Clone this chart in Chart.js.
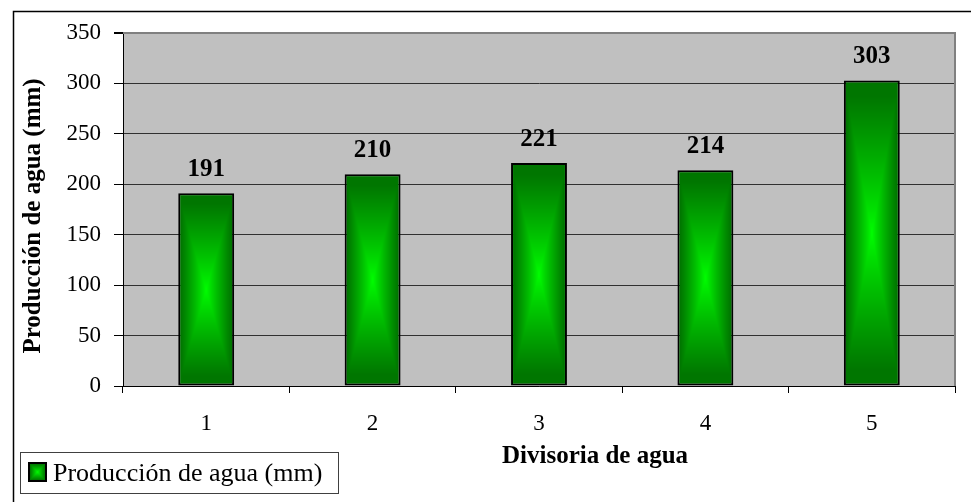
<!DOCTYPE html>
<html>
<head>
<meta charset="utf-8">
<script src="https://cdn.jsdelivr.net/npm/chart.js@4/dist/chart.umd.min.js"></script>
<style>
  html, body { margin: 0; padding: 0; background: #ffffff; }
  #wrap { width: 971px; height: 502px; }
</style>
</head>
<body>
<div id="wrap"><canvas id="chart" width="971" height="502"></canvas></div>
<script>
// Water yield per watershed divide
const categories = ['1', '2', '3', '4', '5'];
const produccion = [191, 210, 221, 214, 303];
const yTickValues = [0, 50, 100, 150, 200, 250, 300, 350];
const seriesLabel = 'Producción de agua (mm)';
const xTitle = 'Divisoria de agua';
const yTitle = 'Producción de agua (mm)';

const SERIF = "'Liberation Serif', 'Times New Roman', serif";
const BAR_FRACTION = 0.336;

// Rectangular "from centre" gradient: bright green in the middle, dark green at the edges
function makeCenterPattern(ctx, left, top, w, h) {
  const W = Math.max(1, Math.round(w)), H = Math.max(1, Math.round(h));
  const off = document.createElement('canvas');
  off.width = W; off.height = H;
  const o = off.getContext('2d');
  const img = o.createImageData(W, H);
  const hw = W / 2, hh = H / 2;
  const c0 = [0, 255, 0], c1 = [0, 118, 0];
  for (let j = 0; j < H; j++) {
    for (let i = 0; i < W; i++) {
      const dx = Math.abs(i + 0.5 - hw) / hw;
      const dy = Math.abs(j + 0.5 - hh) / hh;
      let t = Math.min(1, Math.max(dx, dy) * 1.12);
      t = Math.pow(t, 0.85);
      const k = (j * W + i) * 4;
      img.data[k] = c0[0] + (c1[0] - c0[0]) * t;
      img.data[k + 1] = c0[1] + (c1[1] - c0[1]) * t;
      img.data[k + 2] = c0[2] + (c1[2] - c0[2]) * t;
      img.data[k + 3] = 255;
    }
  }
  o.putImageData(img, 0, 0);
  const p = ctx.createPattern(off, 'no-repeat');
  p.setTransform(new DOMMatrix([1, 0, 0, 1, left, top]));
  return p;
}

function barFill(context) {
  const chart = context.chart;
  const xs = chart.scales.x, ys = chart.scales.y;
  if (!chart.chartArea || !xs || !ys || context.dataIndex === undefined) return '#00a000';
  const i = context.dataIndex;
  const v = context.raw;
  const cx = xs.getPixelForValue(i);
  const w = (xs.width / categories.length) * BAR_FRACTION;
  const top = ys.getPixelForValue(v);
  const base = ys.getPixelForValue(0);
  return makeCenterPattern(chart.ctx, cx - w / 2, top, w, base - top);
}

// Grey plot area plus outer frame
const frame = {
  id: 'frame',
  beforeDraw(chart) {
    const { ctx, chartArea: a } = chart;
    ctx.save();
    ctx.fillStyle = '#c0c0c0';
    ctx.fillRect(a.left, a.top, a.right - a.left, a.bottom - a.top);
    ctx.strokeStyle = '#000';
    ctx.lineWidth = 1.5;
    ctx.strokeRect(13.5, 11.5, 1200, 1200);
    ctx.restore();
  },
  afterDatasetsDraw(chart) {
    const { ctx, chartArea: a } = chart;
    ctx.save();
    ctx.strokeStyle = '#808080';
    ctx.lineWidth = 2;
    ctx.beginPath();
    ctx.moveTo(a.left, a.top);
    ctx.lineTo(a.right, a.top);
    ctx.lineTo(a.right, a.bottom);
    ctx.stroke();
    ctx.restore();
  }
};

// Bold value labels above each bar
const valueLabels = {
  id: 'valueLabels',
  afterDatasetsDraw(chart) {
    const { ctx } = chart;
    const meta = chart.getDatasetMeta(0);
    const data = chart.data.datasets[0].data;
    ctx.save();
    ctx.font = 'bold 25px ' + SERIF;
    ctx.fillStyle = '#000';
    ctx.textAlign = 'center';
    ctx.textBaseline = 'alphabetic';
    meta.data.forEach((bar, i) => {
      ctx.fillText(String(data[i]), bar.x, bar.y - 17);
    });
    ctx.restore();
  }
};

// Axis titles
const axisTitles = {
  id: 'axisTitles',
  afterDraw(chart) {
    const { ctx } = chart;
    ctx.save();
    ctx.fillStyle = '#000';
    ctx.font = 'bold 25px ' + SERIF;
    ctx.textBaseline = 'alphabetic';
    ctx.textAlign = 'left';
    ctx.fillText(xTitle, 502, 463);
    ctx.translate(40, 216);
    ctx.rotate(-Math.PI / 2);
    ctx.textAlign = 'center';
    ctx.fillText(yTitle, 0, 0);
    ctx.restore();
  }
};

// Boxed legend in the lower-left corner
const boxLegend = {
  id: 'boxLegend',
  afterDraw(chart) {
    const { ctx } = chart;
    const label = chart.data.datasets[0].label;
    ctx.save();
    ctx.fillStyle = '#fff';
    ctx.fillRect(20.5, 452.5, 318, 41);
    ctx.strokeStyle = '#404040';
    ctx.lineWidth = 1;
    ctx.strokeRect(20.5, 452.5, 318, 41);
    ctx.fillStyle = makeCenterPattern(ctx, 29, 463, 17, 18);
    ctx.fillRect(29, 463, 17, 18);
    ctx.strokeStyle = '#000';
    ctx.lineWidth = 2;
    ctx.strokeRect(29, 463, 17, 18);
    ctx.fillStyle = '#000';
    ctx.font = '26px ' + SERIF;
    ctx.textAlign = 'left';
    ctx.textBaseline = 'alphabetic';
    ctx.fillText(label, 53, 481);
    ctx.restore();
  }
};

Chart.defaults.font.family = SERIF;
Chart.defaults.font.size = 23;
Chart.defaults.color = '#000';

new Chart(document.getElementById('chart'), {
  type: 'bar',
  data: {
    labels: categories,
    datasets: [{
      label: seriesLabel,
      data: produccion,
      backgroundColor: barFill,
      borderColor: '#000',
      borderWidth: 2,
      borderSkipped: false,
      categoryPercentage: 1,
      barPercentage: BAR_FRACTION
    }]
  },
  options: {
    responsive: false,
    animation: false,
    events: [],
    layout: { padding: { left: 0, top: 33, right: 16, bottom: 0 } },
    plugins: {
      legend: { display: false },
      tooltip: { enabled: false }
    },
    scales: {
      x: {
        offset: true,
        grid: {
          offset: true,
          drawOnChartArea: false,
          drawTicks: true,
          tickLength: 7,
          tickColor: '#000',
          tickWidth: 1
        },
        border: { color: '#000', width: 1 },
        ticks: { padding: 17, maxRotation: 0, autoSkip: false, font: { size: 23 } },
        title: { display: false, text: xTitle },
        afterFit(scale) { scale.height = 116; }
      },
      y: {
        min: 0,
        max: 350,
        afterBuildTicks(scale) { scale.ticks = yTickValues.map(v => ({ value: v })); },
        grid: {
          color: (c) => (c.tick && c.tick.value === 350 ? '#808080' : '#303030'),
          lineWidth: (c) => (c.tick && c.tick.value === 350 ? 2 : 1),
          drawTicks: true,
          tickLength: 9,
          tickColor: '#000'
        },
        border: { color: '#000', width: 1 },
        ticks: { padding: 13, font: { size: 23 } },
        title: { display: false, text: yTitle },
        afterFit(scale) { scale.width = 123; }
      }
    }
  },
  plugins: [frame, valueLabels, axisTitles, boxLegend]
});
</script>
</body>
</html>
